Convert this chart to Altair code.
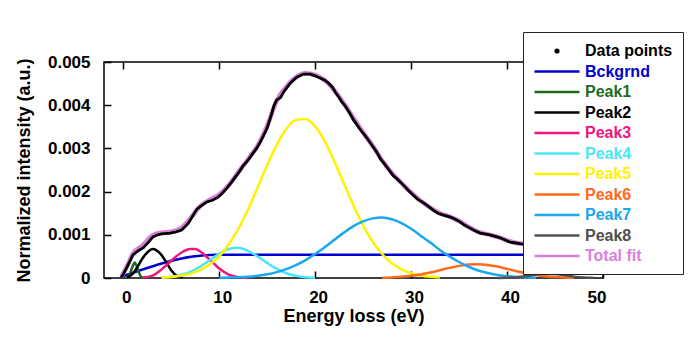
import altair as alt
import pandas as pd

# ---------------- data ----------------
series_order = ["Data points", "Bckgrnd", "Peak1", "Peak2", "Peak3", "Peak4",
                "Peak5", "Peak6", "Peak7", "Peak8", "Total fit"]
series_colors = ["#000000", "#0000D0", "#1E6B1E", "#000000", "#F0147F", "#4CE6F8",
                 "#FFF200", "#FF6A1A", "#19A7EE", "#505050", "#DA80DA"]

data_x = [-0.2, 0.0, 0.5, 1.0, 1.5, 2.1, 2.6, 3.1, 3.6, 4.0, 4.9, 5.5, 6.1, 6.8, 7.2, 7.7,
          8.2, 8.7, 9.3, 9.9, 10.4, 10.8, 11.3, 11.7, 12.1, 12.5, 13.0, 13.4, 13.9, 14.3,
          14.7, 15.0, 15.4, 15.7, 16.0, 16.4, 16.7, 17.1, 17.4, 17.8, 18.1, 18.8, 19.5,
          20.0, 20.5, 21.0, 21.4, 21.8, 22.1, 22.5, 22.8, 23.2, 23.6, 24.0, 24.5, 24.9,
          25.4, 25.9, 26.4, 26.8, 27.3, 27.7, 28.1, 28.6, 29.2, 29.7, 30.2, 30.7, 31.3,
          31.8, 32.3, 32.8, 33.3, 34.1, 34.6, 35.1, 35.6, 36.1, 36.6, 37.2, 37.7, 38.2,
          38.7, 39.3, 39.8, 40.3, 40.9, 41.5, 42.0, 43.0, 44.0, 45.0, 46.0, 47.0]
data_y = [0.00002, 0.00008, 0.0003, 0.00053, 0.00062, 0.0007, 0.00082, 0.00095, 0.001,
          0.00102, 0.00104, 0.00107, 0.00111, 0.00127, 0.00142, 0.0016, 0.00168, 0.00176,
          0.0018, 0.00187, 0.00198, 0.00208, 0.00222, 0.00234, 0.00246, 0.0026, 0.00272,
          0.00285, 0.003, 0.00315, 0.00333, 0.00347, 0.00375, 0.00398, 0.00412, 0.00418,
          0.0043, 0.00442, 0.00451, 0.00459, 0.00465, 0.00472, 0.00472, 0.00468, 0.00463,
          0.00458, 0.00451, 0.00442, 0.0043, 0.00418, 0.00407, 0.00396, 0.00382, 0.00366,
          0.0035, 0.00338, 0.00324, 0.00308, 0.00292, 0.00276, 0.00262, 0.0025, 0.00238,
          0.00228, 0.00215, 0.00203, 0.00192, 0.00182, 0.00174, 0.00166, 0.00157, 0.0015,
          0.00146, 0.00141, 0.00136, 0.0013, 0.00122, 0.00116, 0.0011, 0.00104, 0.00102,
          0.001, 0.00097, 0.00093, 0.00088, 0.00083, 0.00081, 0.00079, 0.00078, 0.00074,
          0.0007, 0.00067, 0.00064, 0.00062]

fit_x = [-0.2, 0.5, 1, 2, 3, 4, 5, 6, 7, 8, 9, 10, 11, 12, 13, 14, 15, 16, 17, 18, 19, 20,
         21, 22, 23, 24, 25, 26, 27, 28, 29, 30, 31, 32, 33, 34, 35, 36, 37, 38, 39, 40,
         41, 42, 44, 46, 47]
fit_y = [0.00002, 0.00032, 0.00056, 0.00075, 0.00098, 0.00105, 0.00107, 0.00115, 0.00138,
         0.00166, 0.00181, 0.00193, 0.00215, 0.00245, 0.00275, 0.00306, 0.00352, 0.00411,
         0.00443, 0.00465, 0.00474, 0.0047, 0.00458, 0.00435, 0.00404, 0.0037, 0.00337,
         0.00306, 0.00272, 0.00243, 0.0022, 0.00198, 0.00179, 0.00163, 0.0015, 0.00142,
         0.00132, 0.00118, 0.00107, 0.00101, 0.00095, 0.00087, 0.00081, 0.00078, 0.0007,
         0.00064, 0.00062]

bg_x = [-0.3, 9.6, 48.0]
bg_y = [0.00002, 0.00054, 0.00054]

p1_x = [0.3, 0.6, 0.9, 1.2, 1.5, 1.8, 2.1]
p1_y = [0.0, 0.00005, 0.00022, 0.00036, 0.00022, 0.00005, 0.0]

p2_x = [0.4, 1.0, 1.5, 2.0, 2.5, 3.1, 3.6, 4.0, 4.5, 5.0, 5.6, 6.2]
p2_y = [0.00001, 0.0001, 0.00026, 0.00045, 0.00059, 0.00067, 0.00062, 0.00053, 0.00036,
        0.00018, 0.00005, 0.00001]

p3_x = [2, 3, 4, 5, 6, 7, 7.5, 8, 9, 10, 11, 12, 13]
p3_y = [0.00001, 0.00005, 0.0002, 0.0004, 0.00058, 0.00067, 0.00067, 0.00062, 0.00043,
        0.00022, 0.00008, 0.00002, 0.0]

p4_x = [4, 5, 6, 7, 8, 9, 10, 11, 12, 13, 14, 15, 16, 17, 18, 19, 20]
p4_y = [0.00001, 0.00003, 0.00007, 0.00014, 0.00026, 0.00041, 0.00056, 0.00067, 0.0007,
        0.00063, 0.0005, 0.00035, 0.00021, 0.00011, 0.00005, 0.00002, 0.000007]

p5_x = [4, 5, 6, 7, 8, 9, 10, 11, 12, 13, 14, 15, 16, 17, 18, 19, 20, 21, 22, 23, 24, 25,
        26, 27, 28, 29, 30, 31, 32, 33]
p5_y = [0.000012, 0.000025, 0.00005, 0.0001, 0.00018, 0.00031, 0.0005, 0.00078, 0.00114,
        0.00158, 0.00209, 0.00261, 0.00308, 0.00345, 0.00366, 0.00368, 0.00351, 0.00317,
        0.0027, 0.00219, 0.00168, 0.00122, 0.00084, 0.00055, 0.00034, 0.0002, 0.00011,
        0.00006, 0.00003, 0.000014]

p6_x = [27, 28, 29, 30, 31, 32, 33, 34, 35, 36, 37, 38, 39, 40, 41, 42, 43, 44, 45, 46, 47]
p6_y = [0.000007, 0.000014, 0.000028, 0.00005, 0.000083, 0.000127, 0.00018, 0.000234,
        0.000281, 0.000312, 0.00032, 0.000302, 0.000264, 0.000212, 0.000158, 0.000108,
        0.000069, 0.00004, 0.000022, 0.000011, 0.000005]

p7_x = [10, 11, 12, 13, 14, 15, 16, 17, 18, 19, 20, 21, 22, 23, 24, 25, 26, 27, 28, 29, 30,
        31, 32, 33, 34, 35, 36, 37, 38, 39, 40, 41, 42, 43]
p7_y = [0.000005, 0.00001, 0.000018, 0.000031, 0.000053, 0.000086, 0.000136, 0.000205,
        0.000298, 0.000415, 0.000555, 0.000714, 0.000883, 0.00105, 0.0012, 0.00131,
        0.00138, 0.0014, 0.00136, 0.00127, 0.00114, 0.00098, 0.00082, 0.00065, 0.0005,
        0.00037, 0.00026, 0.000175, 0.000114, 0.000071, 0.000043, 0.000025, 0.000014,
        0.000007]

p8_x = [39, 40, 41, 42, 43, 44, 45, 46, 47, 48, 49]
p8_y = [0.000001, 0.000006, 0.000019, 0.000044, 0.000077, 0.0001, 0.000093, 0.000064,
        0.000032, 0.000012, 0.000003]

x_ticks = [0, 10, 20, 30, 40, 50]
y_ticks = [0, 0.001, 0.002, 0.003, 0.004, 0.005]

# ---------------- build the table ----------------
curves = {
    "Data points": (data_x, data_y),
    "Bckgrnd": (bg_x, bg_y),
    "Peak1": (p1_x, p1_y),
    "Peak2": (p2_x, p2_y),
    "Peak3": (p3_x, p3_y),
    "Peak4": (p4_x, p4_y),
    "Peak5": (p5_x, p5_y),
    "Peak6": (p6_x, p6_y),
    "Peak7": (p7_x, p7_y),
    "Peak8": (p8_x, p8_y),
    "Total fit": (fit_x, fit_y),
}
rows = []
for name, (xs, ys) in curves.items():
    for i, (xv, yv) in enumerate(zip(xs, ys)):
        rows.append({"series": name, "x": xv, "y": yv, "order": i})
df = pd.DataFrame(rows)

FONT = "Liberation Sans"
# legend symbols: a long horizontal stroke, and a small dot for the data points
LINE = "M-1,0H5"
DOT = "M1.82,0A0.18,0.18 0 1,0 2.18,0A0.18,0.18 0 1,0 1.82,0Z"

legend = alt.Legend(
    title=None, orient="none", legendX=419, legendY=-30,
    symbolType={"expr": "datum.label === 'Data points' ? '" + DOT + "' : '" + LINE + "'"},
    symbolSize=225, symbolStrokeWidth=2.5,
    symbolFillColor={"expr": "datum.label === 'Data points' ? 'black' : 'transparent'"},
    labelColor={"expr": "scale('color', datum.value)"},
    labelFont=FONT, labelFontWeight="bold", labelFontSize=16, labelOffset=34,
    labelLimit=0, rowPadding=3.5, padding=10,
    fillColor="white", strokeColor="#222222",
)
color = alt.Color("series:N", scale=alt.Scale(domain=series_order, range=series_colors),
                  legend=legend)

xscale = alt.Scale(domain=[-2, 50], nice=False, zero=False)
yscale = alt.Scale(domain=[0, 0.005], nice=False)

x_bottom = alt.Axis(title="Energy loss (eV)", values=x_ticks, format="d", grid=False,
                    domain=False, tickSize={"expr": "-7"}, tickColor="black", tickWidth=1.5,
                    labelPadding=18, labelFont=FONT, labelFontWeight="bold", labelFontSize=17,
                    labelColor="black", labelOffset=3, titleFont=FONT, titleFontWeight="bold",
                    titleFontSize=18, titleColor="black", titlePadding=2, orient="bottom")
x_top = alt.Axis(title=None, values=x_ticks, labels=False, grid=False, domain=False,
                 tickSize={"expr": "-7"}, tickColor="black", tickWidth=1.5, orient="top")
y_left = alt.Axis(title="Normalized intensity (a.u.)", values=y_ticks, format="~g",
                  grid=False, domain=False, tickSize={"expr": "-7"}, tickColor="black",
                  tickWidth=1.5, labelPadding=21, labelFont=FONT, labelFontWeight="bold",
                  labelFontSize=17, labelColor="black", titleFont=FONT,
                  titleFontWeight="bold", titleFontSize=18, titleColor="black",
                  titlePadding=14, orient="left")

peaks = alt.Chart(df).transform_filter(
    "datum.series !== 'Data points' && datum.series !== 'Total fit'"
).mark_line(strokeWidth=2.5, interpolate="monotone").encode(
    x=alt.X("x:Q", scale=xscale, axis=x_top),
    y=alt.Y("y:Q", scale=yscale, axis=None),
    color=color,
    detail="series:N",
    order="order:Q",
)

fit = alt.Chart(df).transform_filter("datum.series === 'Total fit'").mark_line(
    strokeWidth=4.5, interpolate="monotone"
).encode(
    x=alt.X("x:Q", scale=xscale, axis=x_bottom),
    y=alt.Y("y:Q", scale=yscale, axis=y_left),
    color=color,
    order="order:Q",
)

data = alt.Chart(df).transform_filter("datum.series === 'Data points'").mark_line(
    strokeWidth=2.8, interpolate="linear"
).encode(
    x=alt.X("x:Q", scale=xscale, axis=None),
    y=alt.Y("y:Q", scale=yscale, axis=None),
    color=color,
    order="order:Q",
)

chart = alt.layer(peaks, fit, data).resolve_axis(x="independent", y="independent").properties(
    width=499, height=216,
    padding={"left": 104, "top": 62, "right": 97, "bottom": 59},
    autosize=alt.AutoSizeParams(type="none"),
    background="white",
).configure_view(stroke="black", strokeWidth=1.5)

chart.save("out.html", embed_options={"renderer": "svg", "actions": False})
